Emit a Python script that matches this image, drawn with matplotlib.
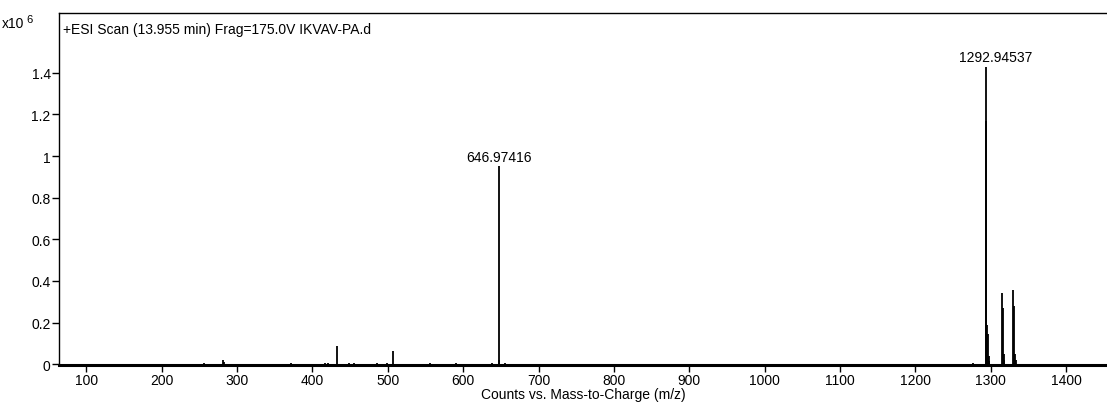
import matplotlib.pyplot as plt

plt.rcParams['font.family'] = ['Liberation Sans', 'DejaVu Sans']

# peak list (m/z, counts in 1e6)
mz = [256.5, 282.0, 283.0, 372.0, 417.0, 421.0, 432.5, 449.0, 455.0, 485.5,
      498.8, 506.7, 556.0, 590.7, 638.5, 646.97416, 647.97, 656.0, 1124.0,
      1276.0, 1292.94537, 1293.95, 1294.95, 1295.95, 1296.95, 1297.95,
      1314.93, 1315.93, 1316.93, 1317.93,
      1329.9, 1330.9, 1331.9, 1332.9]
counts = [0.005, 0.02, 0.01, 0.004, 0.004, 0.004, 0.087, 0.004, 0.004, 0.004,
          0.004, 0.062, 0.006, 0.004, 0.006, 0.95, 0.02, 0.005, 0.003,
          0.005, 1.43, 1.17, 0.19, 0.145, 0.04, 0.015,
          0.34, 0.27, 0.05, 0.02,
          0.355, 0.28, 0.05, 0.02]

labels = {646.97416: ('646.97416', 0), 1292.94537: ('1292.94537', 7)}

title = '+ESI Scan (13.955 min) Frag=175.0V IKVAV-PA.d'
xlabel = 'Counts vs. Mass-to-Charge (m/z)'

fig = plt.figure(figsize=(11.07, 4.14), dpi=100)
ax = fig.add_axes([59 / 1107, 48 / 414, 1 - 59 / 1107, 352 / 414])

ax.vlines(mz, 0, counts, color='black', linewidth=1.3)
for m, c in zip(mz, counts):
    if m in labels:
        txt, dx = labels[m]
        ax.annotate(txt, (m, c), xytext=(dx, 2), textcoords='offset points',
                    ha='center', va='bottom', fontsize=10)

ax.set_xlim(64, 1454)
ax.set_ylim(-0.004, 1.6875)
ax.set_xticks(range(100, 1401, 100))
ax.set_yticks([0, 0.2, 0.4, 0.6, 0.8, 1.0, 1.2, 1.4])
ax.set_yticklabels(['0', '0.2', '0.4', '0.6', '0.8', '1', '1.2', '1.4'])
ax.tick_params(axis='both', labelsize=10, length=5, width=1, pad=1)

ax.spines['right'].set_visible(False)
ax.spines['bottom'].set_linewidth(2.2)
for s in ['left', 'top']:
    ax.spines[s].set_linewidth(1)

ax.text(0.004, 0.975, title, transform=ax.transAxes, ha='left', va='top', fontsize=10)
fig.text(2 / 1107, 1 - 24 / 414, 'x10', ha='left', va='center', fontsize=10)
fig.text(26 / 1107, 1 - 20 / 414, '6', ha='left', va='center', fontsize=8)

ax.set_xlabel(xlabel, fontsize=10, labelpad=0)

fig.savefig('out.png', dpi=100)
